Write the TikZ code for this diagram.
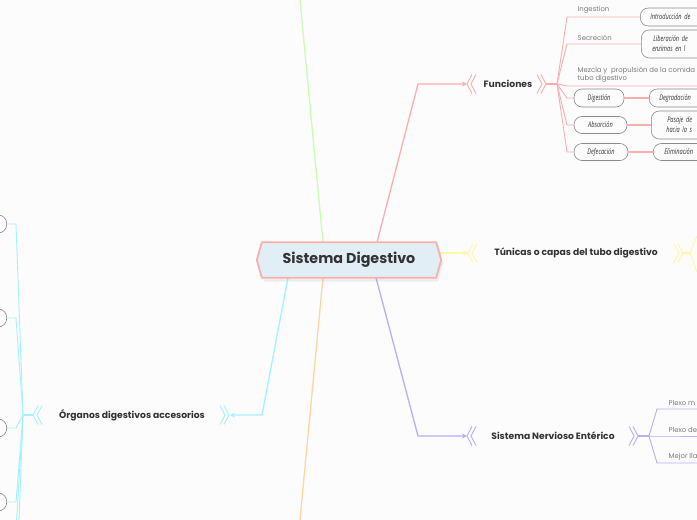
\documentclass[tikz,border=0pt]{standalone}
\usepackage{fontspec}
\setmainfont{Poppins}
\newfontfamily\handfont[FakeStretch=0.72]{Open Sans}
\usetikzlibrary{arrows.meta}
\definecolor{bgc}{HTML}{FCFCFC}
\definecolor{txt}{HTML}{333333}
\definecolor{lgray}{HTML}{7A7A7A}
\definecolor{boxgray}{HTML}{8A8A8A}
\definecolor{pinkc}{HTML}{F9B0AC}
\definecolor{yelc}{HTML}{FFF7A6}
\definecolor{purc}{HTML}{B9ADFF}
\definecolor{cyac}{HTML}{A4F2FF}
\definecolor{grec}{HTML}{C8FDB4}
\definecolor{orac}{HTML}{FFD6A3}
\definecolor{cenfill}{HTML}{E2EEF5}
\begin{document}
\begin{tikzpicture}[x=1pt,y=-1pt,
  lbl/.style={font=\bfseries\fontsize{9.2}{11}\selectfont, text=txt, inner sep=0pt},
  small/.style={font=\fontsize{6.9}{8.6}\selectfont, text=lgray, anchor=south west, inner sep=0.5pt, align=left},
  hbox/.style={draw=boxgray, fill=bgc, rounded corners=8pt, line width=0.6pt, inner sep=0pt,
     font=\handfont\itshape\fontsize{7.8}{10}\selectfont, text=txt, align=center},
  lnode/.style={draw=boxgray, fill=bgc, rounded corners=8.5pt, line width=0.6pt, minimum width=40pt, minimum height=18pt, anchor=east},
  conn/.style={line width=1.3pt},
  sub/.style={line width=0.9pt},
  tip/.style={-{Stealth[length=5pt,width=5pt]}},
  chevL/.pic={\draw[pic actions, line width=0.9pt] (5,-9.5)--(0,0)--(5,9.5) (9,-9.5)--(4,0)--(9,9.5);},
  chevR/.pic={\draw[pic actions, line width=0.9pt] (0,-9.5)--(5,0)--(0,9.5) (4,-9.5)--(9,0)--(4,9.5);}
]
\useasboundingbox (0,0) rectangle (697,520);
\fill[bgc] (0,0) rectangle (697,520);
\clip (0,0) rectangle (697,520);

% ---------- central node ----------
\node[minimum width=184pt, minimum height=35pt, inner sep=0pt] (cen) at (349,260) {};

% green and orange branches (off picture)
\coordinate (gtop) at (299.5,-5);
\coordinate (obot) at (299.5,525);
\draw[grec, conn] ([xshift=-26pt]cen.north) -- (gtop);
\draw[orac, conn] ([xshift=-26pt]cen.south) -- (obot);

% ---------- Funciones ----------
\node[lbl] (fun) at (508,84) {Funciones};
\coordinate (funbend) at (418,84);
\coordinate (funin) at (467,84);
\coordinate (funout) at (546,84);
\coordinate (funfan) at (557,84);
\draw[pinkc, conn, tip] ([xshift=28pt]cen.north) -- (funbend) -- (funin);
\pic[draw=pinkc] at (467,84) {chevL};
\pic[draw=pinkc] at (537,84) {chevR};
\draw[pinkc, conn] (funout) -- (funfan);

\node[hbox, anchor=west, minimum width=90pt, minimum height=18pt, text width=86pt, align=left] (intro) at (640,17) {\hspace*{8pt}Introducción de};
\node[hbox, anchor=west, minimum width=90pt, minimum height=28pt, text width=86pt, align=left] (liber) at (641,44) {\hspace*{10pt}Liberación de\\\hspace*{9pt}enzimas en l};
\coordinate (mezend) at (705,86);
\node[hbox, minimum width=50pt, minimum height=18pt] (dig) at (599,98) {Digestión};
\node[hbox, minimum width=53pt, minimum height=17pt] (abs) at (600.5,125) {Absorción};
\node[hbox, minimum width=54pt, minimum height=17pt] (def) at (601,152) {Defecación};
\node[hbox, anchor=west, minimum width=90pt, minimum height=18pt, text width=86pt, align=left] (degr) at (649,98) {\hspace*{8pt}Degradación};
\node[hbox, anchor=west, minimum width=90pt, minimum height=28pt, text width=86pt, align=left] (pasa) at (651,125) {\hspace*{14pt}Pasaje de\\\hspace*{13pt}hacia la s};
\node[hbox, anchor=west, minimum width=90pt, minimum height=17pt, text width=86pt, align=left] (elim) at (653,152) {\hspace*{9pt}Eliminación};

\coordinate (fa1) at (567,17);
\coordinate (fa2) at (567,44);
\coordinate (fa3) at (567,86);
\coordinate (fa4) at (567,98);
\coordinate (fa5) at (567,125);
\coordinate (fa6) at (567,152);
\draw[pinkc, sub] (funfan) -- (fa1) -- (intro.west);
\draw[pinkc, sub] (funfan) -- (fa2) -- (liber.west);
\draw[pinkc, sub] (funfan) -- (fa3) -- (mezend);
\draw[pinkc, sub] (funfan) -- (fa4) -- (dig.west);
\draw[pinkc, sub] (funfan) -- (fa5) -- (abs.west);
\draw[pinkc, sub] (funfan) -- (fa6) -- (def.west);
\draw[pinkc, line width=1.6pt] (dig.east) -- (degr.west);
\draw[pinkc, line width=1.6pt] (abs.east) -- (pasa.west);
\draw[pinkc, line width=1.6pt] (def.east) -- (elim.west);

\node[small] (l1) at (577,14.5) {Ingestion};
\node[small] (l2) at (577,41.5) {Secreción};
\node[small] (l3) at (577,83.5) {Mezcla y \ propulsión de la comida\\tubo digestivo};

% ---------- Túnicas ----------
\node[lbl] (tun) at (576,253) {Túnicas o capas del tubo digestivo};
\coordinate (tunstart) at (439,253);
\coordinate (tunin) at (468,253);
\coordinate (tunout) at (683,253);
\coordinate (tunfan) at (690,253);
\coordinate (tunc1) at (697,236);
\coordinate (tunc2) at (697,272);
\draw[yelc, conn, tip] (tunstart) -- (tunin);
\pic[draw=yelc] at (468,253) {chevL};
\pic[draw=yelc] at (674,253) {chevR};
\draw[yelc, conn] (tunout) -- (tunfan);
\draw[yelc, sub] (tunfan) -- (tunc1) (tunfan) -- (tunc2);

% ---------- Sistema Nervioso Entérico ----------
\node[lbl] (sne) at (553,436) {Sistema Nervioso Entérico};
\coordinate (snebend) at (418,436);
\coordinate (snein) at (467,436);
\coordinate (sneout) at (638,436);
\coordinate (snefan) at (649,436);
\draw[purc, conn, tip] ([xshift=27pt]cen.south) -- (snebend) -- (snein);
\pic[draw=purc] at (467,436) {chevL};
\pic[draw=purc] at (629,436) {chevR};
\draw[purc, conn] (sneout) -- (snefan);
\coordinate (sb1) at (657,409);
\coordinate (sb2) at (657,436);
\coordinate (sb3) at (657,463);
\coordinate (se1) at (705,409);
\coordinate (se2) at (705,436);
\coordinate (se3) at (705,463);
\draw[purc, sub] (snefan) -- (sb1) -- (se1);
\draw[purc, sub] (snefan) -- (sb2) -- (se2);
\draw[purc, sub] (snefan) -- (sb3) -- (se3);
\node[small] (p1) at (668,406.5) {Plexo m};
\node[small] (p2) at (668,433.5) {Plexo de};
\node[small] (p3) at (668,460.5) {Mejor lla};

% ---------- Órganos digestivos accesorios ----------
\node[lbl] (org) at (132,415) {Órganos digestivos accesorios};
\coordinate (orgbend) at (262,415);
\coordinate (orgin) at (230,415);
\coordinate (orgout) at (33,415);
\coordinate (orgfan) at (23,415);
\draw[cyac, conn, tip] ([xshift=-61pt]cen.south) -- (orgbend) -- (orgin);
\pic[draw=cyac] at (220,415) {chevR};
\pic[draw=cyac] at (33,415) {chevL};
\draw[cyac, conn] (orgout) -- (orgfan);
\node[lnode] (o1) at (7,224) {};
\node[lnode] (o2) at (7,318) {};
\node[lnode] (o3) at (7,428) {};
\node[lnode] (o4) at (7,502) {};
\node[lnode] (o5) at (7,530) {};
\node[lnode] (o6) at (7,600) {};
\coordinate (ob1) at (16,224);
\coordinate (ob2) at (16,318);
\coordinate (ob3) at (16,428);
\coordinate (ob4) at (16,502);
\coordinate (ob5) at (16,530);
\coordinate (ob6) at (16,600);
\foreach \i in {1,...,6}{\draw[cyac, sub] (orgfan) -- (ob\i) -- (o\i.east);}

% central hexagon drawn last
\fill[black, opacity=0.06] ([shift={(7,2)}]cen.west) -- ([shift={(7,2)}]cen.north west) -- ([shift={(-3,2)}]cen.north east) -- ([shift={(2,3)}]cen.east) -- ([shift={(-3,4)}]cen.south east) -- ([shift={(7,4)}]cen.south west) -- cycle;
\draw[pinkc, fill=cenfill, line width=1.8pt, line join=round] (cen.west) -- ([xshift=5pt]cen.north west) -- ([xshift=-5pt]cen.north east) -- (cen.east) -- ([xshift=-5pt]cen.south east) -- ([xshift=5pt]cen.south west) -- cycle;
\node[font=\bfseries\fontsize{14.3}{16}\selectfont, text=txt, inner sep=0pt] (centext) at (cen.center) {Sistema Digestivo};
\end{tikzpicture}
\end{document}
